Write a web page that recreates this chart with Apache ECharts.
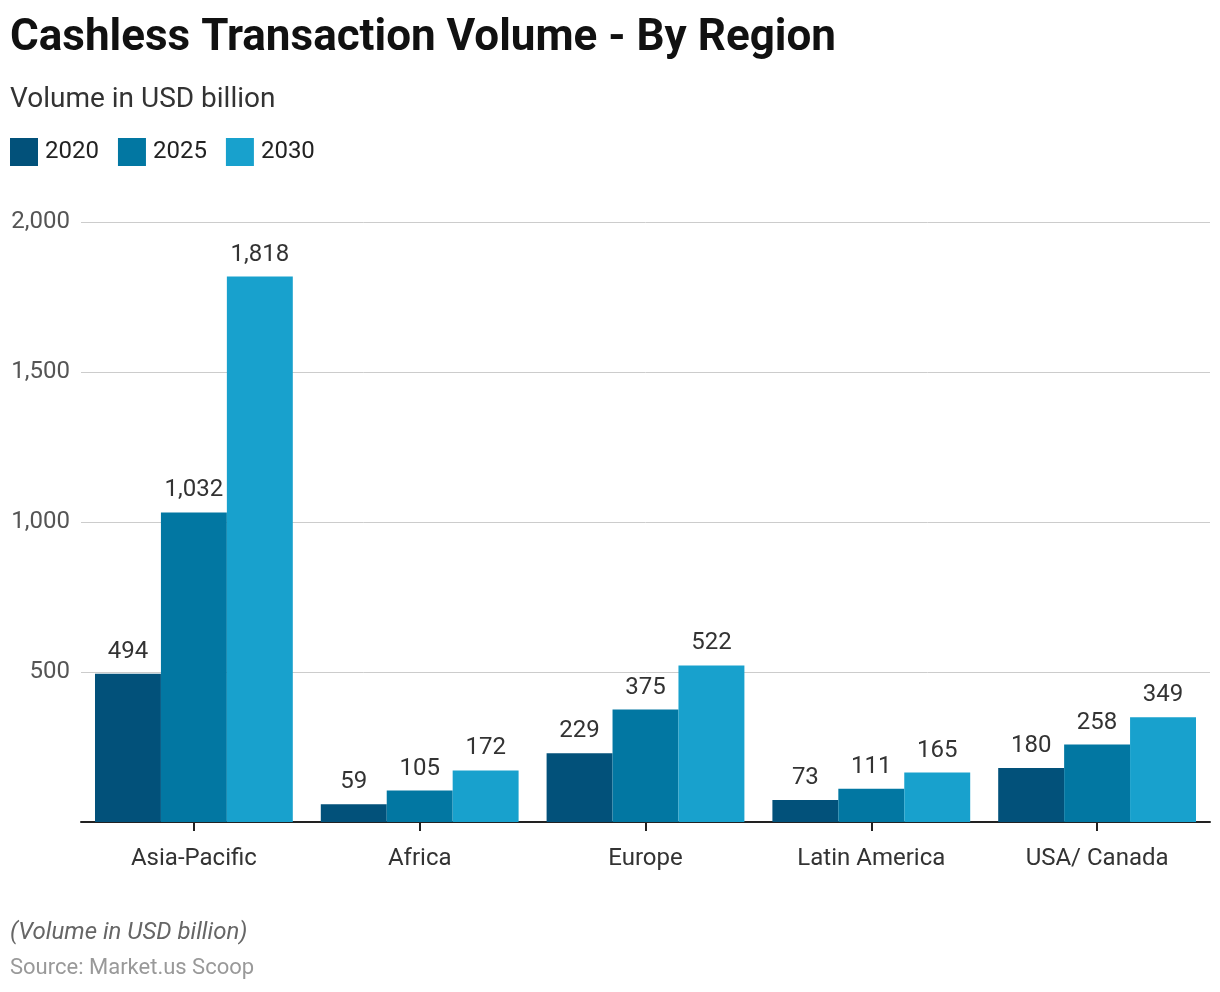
<!DOCTYPE html>
<html><head><meta charset="utf-8">
<script src="https://cdn.jsdelivr.net/npm/echarts@6/dist/echarts.min.js"></script>
<style>html,body{margin:0;padding:0;background:#fff}#c{width:1220px;height:992px}</style>
</head><body><div id="c"></div>
<script>
const categories = ['Asia-Pacific','Africa','Europe','Latin America','USA/ Canada'];
const seriesNames = ['2020','2025','2030'];
const v2020 = [494,59,229,73,180];
const v2025 = [1032,105,375,111,258];
const v2030 = [1818,172,522,165,349];
const yTicks = [0,500,1000,1500,2000];
const colors = ['#02517a','#0277a2','#18a1cd'];
const values = [v2020,v2025,v2030];
const chart = echarts.init(document.getElementById('c'));
const fmt = v => v.toLocaleString('en-US');
chart.setOption({
  animation:false,
  textStyle:{fontFamily:'Roboto'},
  title:[
    {text:'Cashless Transaction Volume - By Region',left:10,top:17,padding:0,textStyle:{fontSize:44,fontWeight:'bold',color:'#111',fontFamily:'Roboto'}},
    {text:'Volume in USD billion',left:10,top:86,padding:0,textStyle:{fontSize:28,fontWeight:'normal',color:'#333',fontFamily:'Roboto'}},
    {text:'(Volume in USD billion)',left:10,top:921,padding:0,textStyle:{fontSize:24,fontWeight:'normal',fontStyle:'italic',color:'#666',fontFamily:'Roboto'}},
    {text:'Source: Market.us Scoop',left:10,top:957,padding:0,textStyle:{fontSize:22,fontWeight:'normal',color:'#999',fontFamily:'Roboto'}}
  ],
  legend:{left:10,top:138,padding:0,itemWidth:28,itemHeight:28,itemGap:19,icon:'rect',
    textStyle:{fontSize:24,color:'#222',fontFamily:'Roboto',padding:[0,0,0,2]},data:seriesNames},
  grid:{left:81,right:10,top:222,bottom:170,containLabel:false},
  xAxis:{type:'category',data:categories,
    axisLine:{lineStyle:{color:'#222',width:2}},
    axisTick:{show:true,alignWithLabel:true,length:9,lineStyle:{color:'#222',width:2},interval:0},
    axisLabel:{fontSize:24,color:'#333',margin:25,interval:0}},
  yAxis:{type:'value',min:0,max:2000,interval:500,
    axisLabel:{fontSize:24,color:'#555',margin:11,formatter:v=>yTicks.includes(v)&&v!==0?fmt(v):''},
    splitLine:{lineStyle:{color:'#cccccc',width:1}},
    axisLine:{show:false},axisTick:{show:false}},
  series:seriesNames.map((n,i)=>({
    name:n,type:'bar',data:values[i],barGap:'0%',barCategoryGap:'12.4%',
    itemStyle:{color:colors[i]},
    label:{show:true,position:'top',distance:10,fontSize:24,color:'#333',formatter:p=>fmt(p.value)}
  }))
});
</script></body></html>
